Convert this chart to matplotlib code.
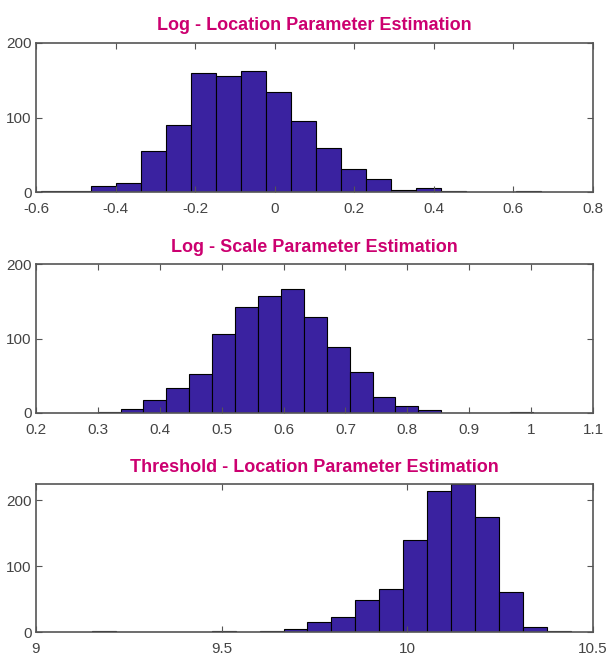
import numpy as np
import matplotlib.pyplot as plt

plt.rcParams['font.family'] = ['Liberation Sans', 'DejaVu Sans']

# DATA (histogram counts, 20 bins each)
titles = ['Log - Location Parameter Estimation',
          'Log - Scale Parameter Estimation',
          'Threshold - Location Parameter Estimation']

loc_range = (-0.587, 0.669)
loc_counts = [1, 1, 8, 12, 55, 90, 160, 156, 162, 134,
              95, 59, 31, 18, 3, 6, 1, 0, 0, 1]

scale_range = (0.2625, 1.003)
scale_counts = [0, 1, 6, 18, 34, 52, 106, 142, 157, 166,
                129, 89, 55, 21, 9, 4, 0, 0, 0, 2]

thr_range = (9.151, 10.44)
thr_counts = [1, 0, 0, 0, 0, 1, 0, 2, 4, 15,
              23, 48, 65, 140, 214, 225, 175, 61, 7, 2]

xticks_loc = [-0.6, -0.4, -0.2, 0, 0.2, 0.4, 0.6, 0.8]
xticks_scale = [0.2, 0.3, 0.4, 0.5, 0.6, 0.7, 0.8, 0.9, 1, 1.1]
xticks_thr = [9, 9.5, 10, 10.5]

panels = [
    (loc_range, loc_counts, xticks_loc, (0, 200)),
    (scale_range, scale_counts, xticks_scale, (0, 200)),
    (thr_range, thr_counts, xticks_thr, (0, 225)),
]

# PLOTTING
fig = plt.figure(figsize=(6.07, 6.62), dpi=100)
W, H = 607.0, 662.0
boxes = [(36, 43, 593, 192), (36, 264, 593, 413), (36, 484, 593, 632)]

bar_color = '#3a22a0'
title_color = '#cc0070'
axis_color = '#555555'

for (rng, counts, xt, yl), title, (x0, y0, x1, y1) in zip(panels, titles, boxes):
    ax = fig.add_axes([x0 / W, 1 - y1 / H, (x1 - x0) / W, (y1 - y0) / H])
    edges = np.linspace(rng[0], rng[1], len(counts) + 1)
    ax.bar(edges[:-1], counts, width=np.diff(edges), align='edge',
           color=bar_color, edgecolor='black', linewidth=0.8)
    ax.set_xlim(xt[0], xt[-1])
    ax.set_ylim(*yl)
    ax.set_xticks(xt)
    ax.set_xticklabels([f"{v:g}" for v in xt])
    ax.set_yticks([0, 100, 200])
    ax.tick_params(direction='in', top=True, right=True, length=4,
                   colors=axis_color, labelsize=11, labelcolor='#444444')
    ax.tick_params(axis='x', pad=7)
    ax.tick_params(axis='y', pad=3)
    for s in ax.spines.values():
        s.set_color(axis_color)
        s.set_linewidth(1.2)
    ax.set_title(title, color=title_color, fontsize=13, fontweight='bold', pad=9)

fig.savefig('out.png', dpi=100)
